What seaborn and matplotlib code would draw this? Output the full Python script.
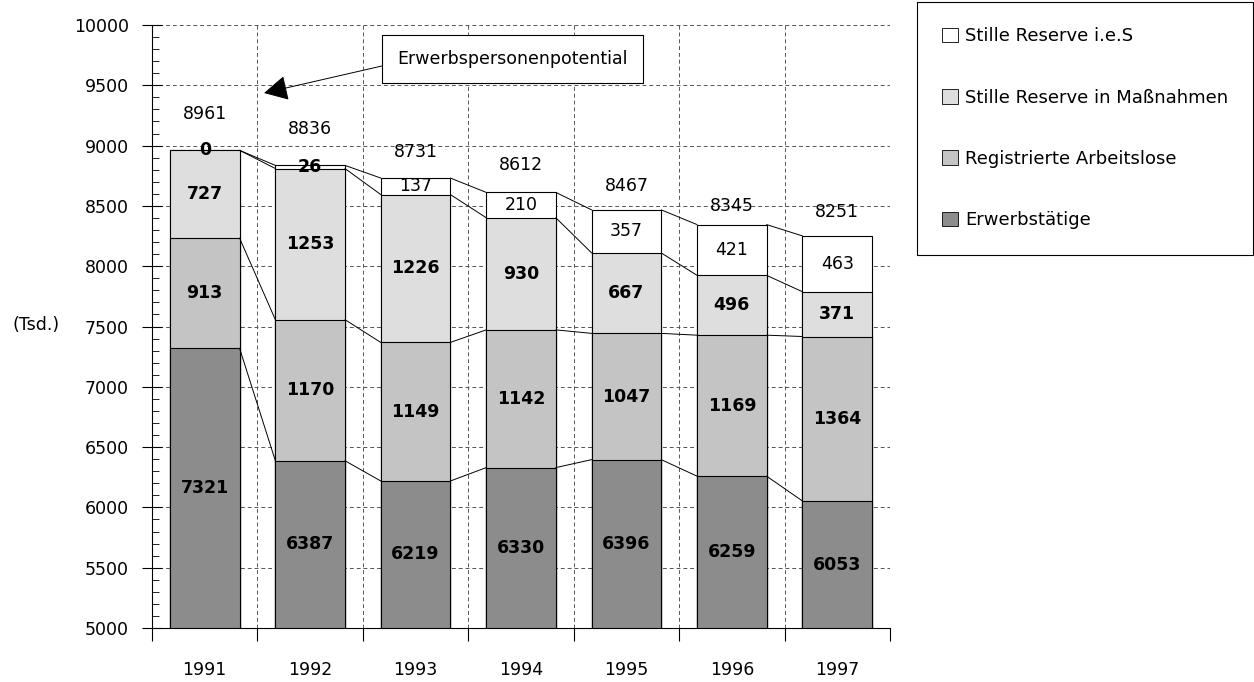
import matplotlib
matplotlib.use("Agg")
import matplotlib.pyplot as plt
import seaborn as sns
import numpy as np
from matplotlib.patches import Patch, Rectangle
from matplotlib.ticker import MultipleLocator, FixedLocator

# ---------------- data ----------------
years = ["1991", "1992", "1993", "1994", "1995", "1996", "1997"]
erwerbstaetige = [7321, 6387, 6219, 6330, 6396, 6259, 6053]
registrierte_arbeitslose = [913, 1170, 1149, 1142, 1047, 1169, 1364]
stille_reserve_massnahmen = [727, 1253, 1226, 930, 667, 496, 371]
stille_reserve_ies = [0, 26, 137, 210, 357, 421, 463]
totals = [8961, 8836, 8731, 8612, 8467, 8345, 8251]
total_label_y = [9265, 9140, 8950, 8835, 8665, 8500, 8450]

series_names = ["Erwerbstätige", "Registrierte Arbeitslose",
                "Stille Reserve in Maßnahmen", "Stille Reserve i.e.S"]
colors = ["#8c8c8c", "#c4c4c4", "#dedede", "#ffffff"]
# bold flags per layer and year (small top segments in 1991/92 are bold)
label_bold = [[True] * 7, [True] * 7, [True] * 7,
              [True, True, False, False, False, False, False]]

# ---------------- style ----------------
sns.set_theme(style="white")
plt.rcParams["font.family"] = ["DejaVu Sans"]
plt.rcParams["text.color"] = "black"
plt.rcParams["axes.labelcolor"] = "black"
plt.rcParams["xtick.color"] = "black"
plt.rcParams["ytick.color"] = "black"
FS = 12.5

fig = plt.figure(figsize=(12.54, 6.82), dpi=100)
ax = fig.add_axes([152 / 1254, 1 - 628 / 682, (890 - 152) / 1254, (628 - 25) / 682])

layers = np.array([erwerbstaetige, registrierte_arbeitslose,
                   stille_reserve_massnahmen, stille_reserve_ies])
cum = np.cumsum(layers, axis=0)
w = 0.66

for k in range(3, -1, -1):
    sns.barplot(x=years, y=cum[k], color=colors[k], saturation=1, width=w,
                edgecolor="black", linewidth=0.8, errorbar=None, ax=ax, zorder=2)

ymin, ymax = 5000, 10000
ax.set_ylim(ymin, ymax)
ax.set_xlim(-0.5, len(years) - 0.5)

# connecting series lines
for k in range(4):
    for i in range(len(years) - 1):
        ax.plot([i + w / 2, i + 1 - w / 2], [cum[k][i], cum[k][i + 1]],
                color="black", lw=0.7, zorder=3)

# segment labels
for k in range(4):
    for i in range(len(years)):
        top = cum[k][i]
        bottom = cum[k - 1][i] if k > 0 else ymin
        yc = (top + bottom) / 2
        ax.text(i, yc, f"{layers[k][i]}", ha="center", va="center",
                fontsize=FS, color="black",
                fontweight="bold" if label_bold[k][i] else "normal",
                zorder=4)

# total labels
for i in range(len(years)):
    ax.text(i, total_label_y[i], f"{totals[i]}", ha="center", va="center",
            fontsize=FS, color="black", zorder=4)

# annotation box + arrow
bx0, bx1, by0, by1 = 1.68, 4.16, 9519, 9917
ax.add_patch(Rectangle((bx0, by0), bx1 - bx0, by1 - by0, facecolor="white",
                       edgecolor="black", lw=0.8, zorder=4))
ax.text((bx0 + bx1) / 2, (by0 + by1) / 2, "Erwerbspersonenpotential",
        ha="center", va="center", fontsize=FS, color="black", zorder=5)
ax.annotate("", xy=(0.563, 9436), xytext=(bx0, 9660),
            arrowprops=dict(arrowstyle="-|>,head_length=1.0,head_width=0.53",
                            mutation_scale=15, color="black", lw=0.7,
                            shrinkA=0, shrinkB=0), zorder=5)

# axes / ticks
ax.yaxis.set_major_locator(MultipleLocator(500))
ax.yaxis.set_minor_locator(MultipleLocator(100))
ax.set_xticks(range(len(years)))
ax.set_xticklabels(years)
ax.xaxis.set_minor_locator(FixedLocator(np.arange(-0.5, len(years), 1)))
ax.tick_params(axis="x", which="major", length=0, pad=24, labelsize=FS,
               labelcolor="black")
ax.tick_params(axis="x", which="minor", length=9, direction="out",
               width=0.8, color="black", bottom=True)
ax.tick_params(axis="y", which="major", length=15, direction="inout",
               width=0.8, color="black", pad=9, labelsize=FS,
               labelcolor="black", left=True)
ax.tick_params(axis="y", which="minor", length=5, direction="in",
               width=0.6, color="black", left=True)

ax.set_axisbelow(True)
grid_kw = dict(linestyle=(0, (4, 3)), color="#555555", lw=0.7)
ax.yaxis.grid(True, which="major", **grid_kw)
ax.xaxis.grid(True, which="minor", **grid_kw)
ax.xaxis.grid(False, which="major")

for s in ["top", "right"]:
    ax.spines[s].set_visible(False)
for s in ["left", "bottom"]:
    ax.spines[s].set_color("black")
    ax.spines[s].set_linewidth(0.8)

ax.set_xlabel("")
ax.set_ylabel("(Tsd.)", rotation=0, fontsize=FS, color="black",
              ha="center", va="center")
ax.yaxis.set_label_coords((36 - 152) / 738, (628 - 325) / 603)

# legend
handles = [Patch(facecolor=colors[k], edgecolor="black", lw=0.6,
                 label=series_names[k]) for k in range(3, -1, -1)]
leg = fig.legend(handles=handles, loc="upper left",
                 bbox_to_anchor=(917 / 1254, 1 - 2 / 682), frameon=True,
                 fancybox=False, edgecolor="black", framealpha=1,
                 borderaxespad=0, borderpad=1.4, labelspacing=2.4,
                 handlelength=0.85, handleheight=0.85, handletextpad=0.4,
                 fontsize=13)
leg.get_frame().set_linewidth(0.8)
for t in leg.get_texts():
    t.set_color("black")

fig.savefig("out.png", dpi=100)
